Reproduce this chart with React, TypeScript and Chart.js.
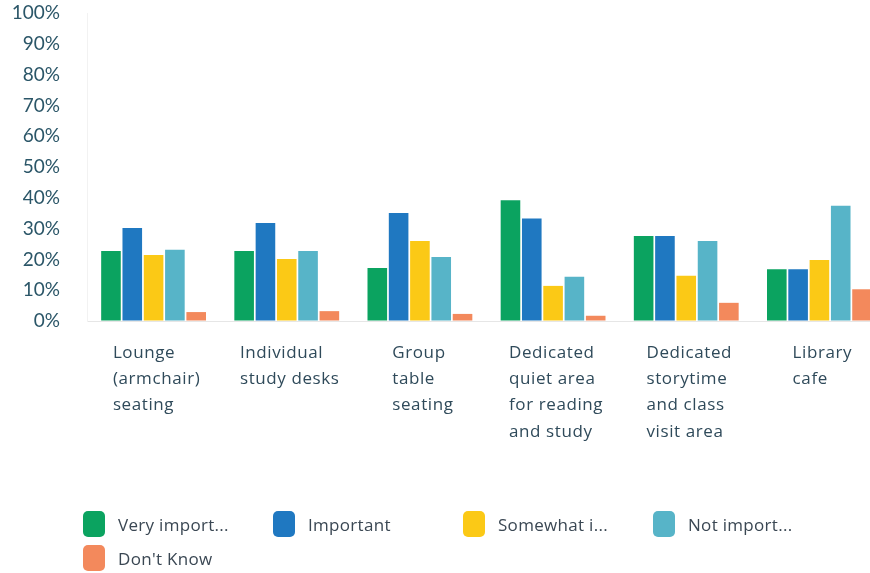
import React, { useEffect, useRef } from 'react';
import { Chart, registerables } from 'chart.js';

Chart.register(...registerables);

const categoryLines: string[][] = [
  ['Lounge', '(armchair)', 'seating'],
  ['Individual', 'study desks'],
  ['Group', 'table', 'seating'],
  ['Dedicated', 'quiet area', 'for reading', 'and study'],
  ['Dedicated', 'storytime', 'and class', 'visit area'],
  ['Library', 'cafe'],
];
const categories = categoryLines.map((l) => l.join(' '));

const seriesNames = ['Very import...', 'Important', 'Somewhat i...', 'Not import...', "Don't Know"];
const veryImportant = [22.7, 22.7, 17.2, 39.2, 27.6, 16.8];
const important = [30.2, 31.8, 35.1, 33.3, 27.6, 16.8];
const somewhatImportant = [21.4, 20.1, 26.0, 11.4, 14.7, 19.8];
const notImportant = [23.1, 22.7, 20.8, 14.4, 26.0, 37.4];
const dontKnow = [2.9, 3.2, 2.3, 1.7, 5.9, 10.3];
const seriesValues = [veryImportant, important, somewhatImportant, notImportant, dontKnow];
const seriesColors = ['#0ba360', '#1f78c1', '#fbc916', '#57b4c8', '#f3895c'];

const yMax = 100;
const yStep = 10;

const labelFont = '17px "Open Sans"';

const xLabelPlugin = {
  id: 'xLabels',
  afterDraw(chart: any) {
    const { ctx, chartArea } = chart;
    const x = chart.scales.x;
    ctx.save();
    ctx.font = labelFont;
    try { (ctx as any).letterSpacing = '0.6px'; } catch (e) {}
    ctx.fillStyle = '#2f4a5a';
    ctx.textAlign = 'left';
    ctx.textBaseline = 'middle';
    categoryLines.forEach((lines, i) => {
      const cx = x.getPixelForValue(i);
      const w = Math.max(...lines.map((l) => ctx.measureText(l).width));
      const left = cx - w / 2 + 3;
      lines.forEach((l, j) => ctx.fillText(l, left, chartArea.bottom + 32 + j * 26.3));
    });
    ctx.restore();
  },
};

export default function App() {
  const ref = useRef<HTMLCanvasElement>(null);

  useEffect(() => {
    if (!ref.current) return;
    const chart = new Chart(ref.current, {
      type: 'bar',
      data: {
        labels: categories,
        datasets: seriesNames.map((name, i) => ({
          label: name,
          data: seriesValues[i],
          backgroundColor: seriesColors[i],
          borderWidth: 0,
          categoryPercentage: 0.8,
          barPercentage: 0.92,
        })),
      },
      options: {
        animation: false,
        responsive: false,
        layout: { padding: { left: 12, right: 4, top: 13, bottom: 252 } },
        plugins: {
          legend: { display: false },
          tooltip: { enabled: false },
        },
        scales: {
          x: {
            grid: { display: false },
            border: { display: false },
            ticks: { display: false },
            afterFit: (s: any) => {
              s.height = 0;
              s.paddingLeft = 0;
              s.paddingRight = 0;
            },
          },
          y: {
            min: 0,
            max: yMax,
            ticks: {
              stepSize: yStep,
              callback: (v: any) => v + '%',
              color: '#2b5668',
              font: { family: 'Lato', size: 19 },
              padding: 27,
            },
            grid: {
              drawTicks: false,
              color: (c: any) => (c.tick && c.tick.value === 0 ? '#e6e6e6' : 'rgba(0,0,0,0)'),
            },
            border: { display: true, color: '#f2f2f2' },
            afterFit: (s: any) => {
              s.width = 75;
              s.paddingTop = 0;
              s.paddingBottom = 0;
            },
          },
        },
      },
      plugins: [xLabelPlugin],
    });
    return () => chart.destroy();
  }, []);

  return (
    <div style={{ position: 'absolute', left: 0, top: 0, width: 870, height: 573, overflow: 'hidden', background: '#fff' }}>
      <canvas ref={ref} width={890} height={573} style={{ position: 'absolute', left: 0, top: 0 }} />
      <div
        style={{
          position: 'absolute',
          left: 83,
          top: 511,
          width: 780,
          display: 'flex',
          flexWrap: 'wrap',
          rowGap: 8,
          fontFamily: '"Open Sans", sans-serif',
          fontSize: 17,
          color: '#3a4753',
          letterSpacing: '0.3px',
        }}
      >
        {seriesNames.map((name, i) => (
          <div key={name} style={{ width: 190, height: 26, display: 'flex', alignItems: 'center' }}>
            <div style={{ width: 22, height: 26, borderRadius: 5, background: seriesColors[i], marginRight: 13, flexShrink: 0 }} />
            <span style={{ whiteSpace: 'nowrap' }}>{name}</span>
          </div>
        ))}
      </div>
    </div>
  );
}
